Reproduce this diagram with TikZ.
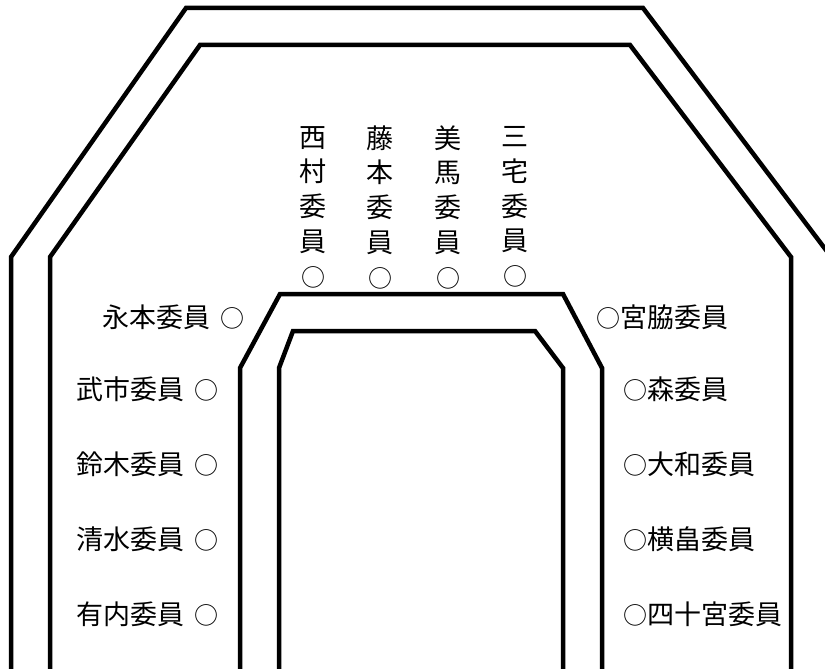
\documentclass[tikz,border=0pt]{standalone}
\usepackage{fontspec, tkz-euclide}
\newfontfamily\jpfont{Noto Sans CJK JP}
\newcommand{\seatmark}{{\fontsize{24}{24}\selectfont ○}}
\tikzset{>=stealth,
  wall/.style={draw, line width=4.5pt, line join=miter},
  wallend/.style={draw, line width=1pt},
  seat/.style={font=\jpfont\fontsize{27}{34.75}\selectfont, inner sep=0pt, align=center}}

\begin{document}
\begin{tikzpicture}[x=1pt, y=-1pt]
    \useasboundingbox (0,0) rectangle (825,669);
    \tkzDefPoints{11/669/O1, 11/257/O2, 186/8/O3, 643/8/O4, 832/258/O5, 832/669/O6}
    \tkzDefPoints{50/669/I1, 50/257/I2, 200/45/I3, 630/45/I4, 791/257/I5, 791/669/I6}
    \tkzDefPoints{240/669/P1, 240/368/P2, 280/294/P3, 563/294/P4, 602/368/P5, 602/669/P6}
    \tkzDefPoints{279/669/Q1, 279/368/Q2, 293/331/Q3, 535/331/Q4, 563/368/Q5, 563/669/Q6}
    \path[wall] (O1) -- (O2) -- (O3) -- (O4) -- (O5) -- (O6);
    \path[wall] (I1) -- (I2) -- (I3) -- (I4) -- (I5) -- (I6);
    \path[wall] (P1) -- (P2) -- (P3) -- (P4) -- (P5) -- (P6);
    \path[wall] (Q1) -- (Q2) -- (Q3) -- (Q4) -- (Q5) -- (Q6);
    \path[wallend] (O1) -- (I1) (P1) -- (Q1) (Q6) -- (P6) (I6) -- (O6);
    % front row
    \node[seat] (nishimura) at (313,207) {西\\村\\委\\員\\\seatmark};
    \node[seat] (fujimoto) at (380,207) {藤\\本\\委\\員\\\seatmark};
    \node[seat] (biba) at (448,207) {美\\馬\\委\\員\\\seatmark};
    \node[seat] (miyake) at (515,207) {三\\宅\\委\\員\\\seatmark};
    % left side
    \node[seat, anchor=east] (nagamoto) at (245,317) {永本委員\hspace{10pt}\seatmark};
    \node[seat, anchor=east] (takeichi) at (219,389) {武市委員\hspace{10pt}\seatmark};
    \node[seat, anchor=east] (suzuki) at (219,464) {鈴木委員\hspace{10pt}\seatmark};
    \node[seat, anchor=east] (shimizu) at (219,539) {清水委員\hspace{10pt}\seatmark};
    \node[seat, anchor=east] (ariuchi) at (219,614) {有内委員\hspace{10pt}\seatmark};
    % right side
    \node[seat, anchor=west] (miyawaki) at (596,317) {\seatmark 宮脇委員};
    \node[seat, anchor=west] (mori) at (623,389) {\seatmark 森委員};
    \node[seat, anchor=west] (yamato) at (623,464) {\seatmark 大和委員};
    \node[seat, anchor=west] (yokohata) at (623,539) {\seatmark 横畠委員};
    \node[seat, anchor=west] (yosomiya) at (623,614) {\seatmark 四十宮委員};
\end{tikzpicture}
\end{document}
